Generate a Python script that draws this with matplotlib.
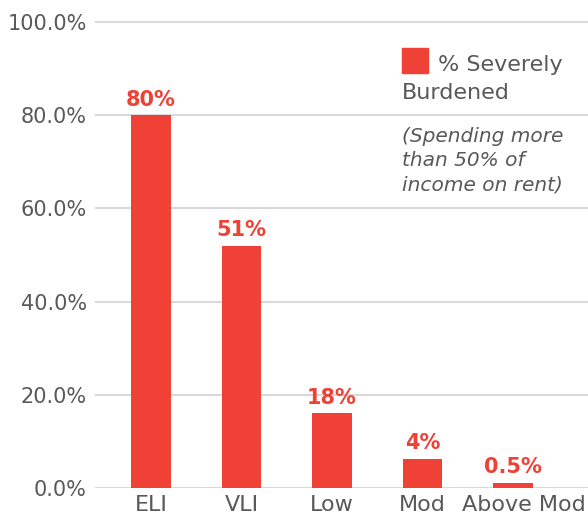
import matplotlib
matplotlib.use("Agg")
import matplotlib.pyplot as plt
import matplotlib.transforms as mtransforms
from matplotlib.patches import Rectangle

# values as drawn (bar heights) and the labels printed on them
categories = ["ELI", "VLI", "Low", "Mod", "Above Mod"]
severely_burdened = [80, 52, 16, 6.3, 1.1]
value_labels = ["80%", "51%", "18%", "4%", "0.5%"]
y_ticks = [0, 20, 40, 60, 80, 100]

RED = "#EF4136"
GREY = "#595959"
GRID = "#D9D9D9"

fig = plt.figure(figsize=(5.88, 5.17), dpi=100)
ax = fig.add_axes([0.1616, 0.0561, 0.8384, 0.9104])

x = range(len(categories))
ax.bar(x, severely_burdened, width=0.44, color=RED, zorder=3)
for xi, h, lab in zip(x, severely_burdened, value_labels):
    ax.annotate(lab, (xi, h), xytext=(0, 4), textcoords="offset points",
                ha="center", va="bottom", color=RED, fontsize=15, fontweight="bold")

ax.set_xlim(-0.62, 4.83)
ax.set_ylim(0, 101)
ax.set_yticks(y_ticks)
ax.set_yticklabels([f"{v:.1f}%" for v in y_ticks], color=GREY, fontsize=15)
ax.set_xticks(list(x))
ax.set_xticklabels(categories, color=GREY, fontsize=16)
ax.tick_params(axis="y", length=0, pad=6)
ax.tick_params(axis="x", length=0, pad=5)
ax.yaxis.grid(True, color=GRID, lw=1.5, zorder=0)
for s in ax.spines.values():
    s.set_visible(False)

# nudge the long last label right so it clears "Mod"
last = ax.get_xticklabels()[-1]
last.set_transform(last.get_transform()
                   + mtransforms.ScaledTranslation(8 / 72, 0, fig.dpi_scale_trans))

# legend drawn by hand so the label can wrap under the swatch
ax.add_patch(Rectangle((0.6227, 0.8817), 0.0527, 0.0531, transform=ax.transAxes,
                       color=RED, clip_on=False))
ax.text(0.6957, 0.8859, "% Severely", transform=ax.transAxes, color=GREY,
        fontsize=16, va="baseline")
ax.text(0.6227, 0.8264, "Burdened", transform=ax.transAxes, color=GREY,
        fontsize=16, va="baseline")
ax.text(0.6227, 0.6331, "(Spending more\nthan 50% of\nincome on rent)",
        transform=ax.transAxes, color=GREY, fontsize=14.5, style="italic",
        va="baseline", linespacing=1.32)

fig.savefig("out.png", dpi=100)
